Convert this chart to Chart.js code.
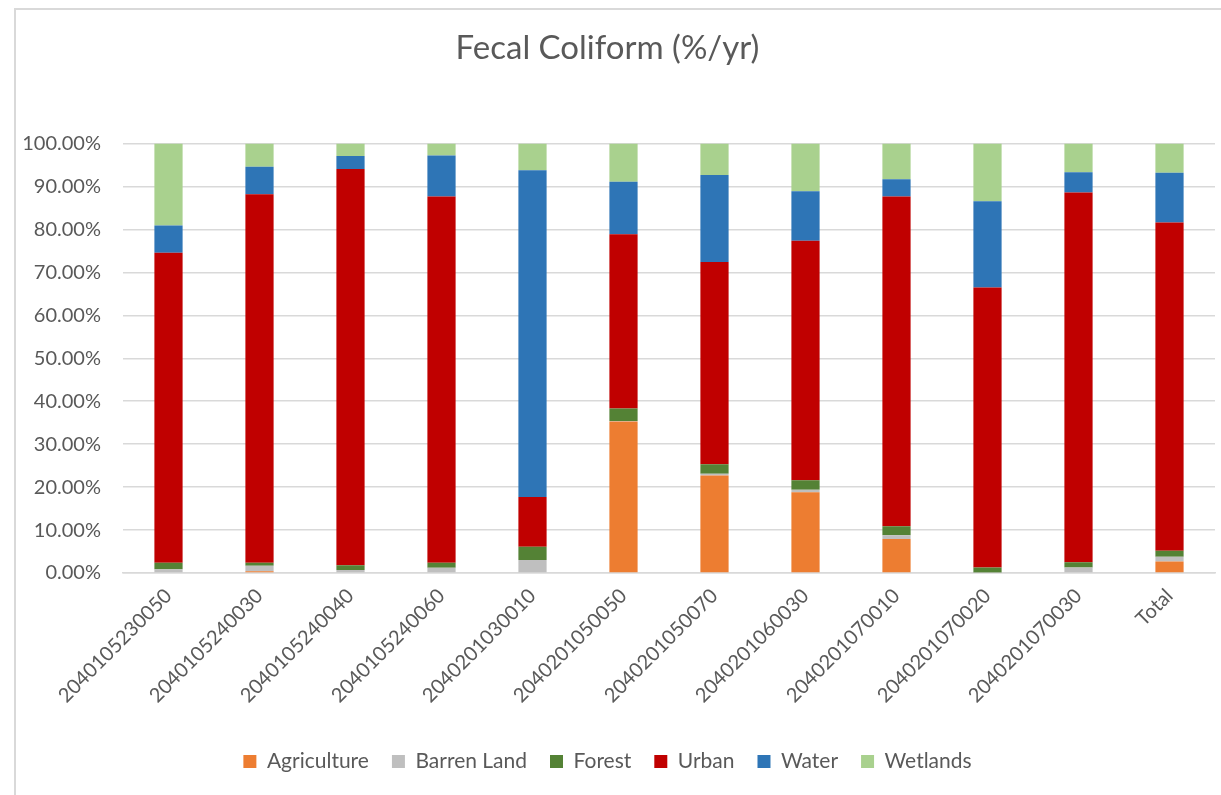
<!DOCTYPE html>
<html>
<head>
<meta charset="utf-8">
<script src="https://cdn.jsdelivr.net/npm/chart.js@4.4.0/dist/chart.umd.min.js"></script>
<style>
  html, body { margin: 0; padding: 0; background: #fff; }
  #frame {
    position: absolute; left: 14px; top: 8px; width: 1240px; height: 800px;
    border-left: 2px solid #d9d9d9; border-top: 2px solid #d9d9d9;
  }
  #wrap { position: absolute; left: 0; top: 0; width: 1221px; height: 795px; }
</style>
</head>
<body>
<div id="frame"></div>
<div id="wrap"><canvas id="js-chart" width="1221" height="795"></canvas></div>
<script>
'use strict';
const labels = ['2040105230050', '2040105240030', '2040105240040', '2040105240060',
  '2040201030010', '2040201050050', '2040201050070', '2040201060030',
  '2040201070010', '2040201070020', '2040201070030', 'Total'];

const agriculture = [0, 0.4, 0, 0, 0, 35.3, 22.7, 18.8, 7.9, 0, 0, 2.7];
const barrenLand  = [0.9, 1.3, 0.7, 1.2, 3.0, 0.1, 0.4, 0.6, 0.9, 0.1, 1.3, 1.1];
const forest      = [1.5, 0.7, 1.1, 1.2, 3.1, 2.9, 2.2, 2.2, 2.1, 1.2, 1.2, 1.4];
const urban       = [72.2, 85.8, 92.3, 85.3, 11.6, 40.6, 47.1, 55.8, 76.8, 65.2, 86.1, 76.4];
const water       = [6.3, 6.4, 3.0, 9.5, 76.1, 12.2, 20.3, 11.5, 4.0, 20.1, 4.7, 11.6];
const wetlands    = [19.1, 5.4, 2.9, 2.8, 6.2, 8.9, 7.3, 11.1, 8.3, 13.4, 6.7, 6.8];

const yTicks = [0, 10, 20, 30, 40, 50, 60, 70, 80, 90, 100];

const textColor = '#595959';
const gridColor = '#d9d9d9';
const fontFamily = 'Lato, "Open Sans", sans-serif';

const makeSet = function(label, data, color) {
  return {
    label: label,
    data: data,
    backgroundColor: color,
    borderWidth: 0,
    categoryPercentage: 1,
    barPercentage: 0.31
  };
};

document.addEventListener('DOMContentLoaded', function() {
  let ctx = document.getElementById('js-chart').getContext('2d');
  new Chart(ctx, {
    type: 'bar',
    data: {
      labels: labels,
      datasets: [
        makeSet('Agriculture', agriculture, '#ed7d31'),
        makeSet('Barren Land', barrenLand, '#bfbfbf'),
        makeSet('Forest', forest, '#548235'),
        makeSet('Urban', urban, '#c00000'),
        makeSet('Water', water, '#2e75b6'),
        makeSet('Wetlands', wetlands, '#a9d18e')
      ]
    },
    options: {
      responsive: false,
      animation: false,
      layout: { padding: { left: 0, right: 6, top: 0, bottom: 13 } },
      plugins: {
        title: {
          display: true,
          text: 'Fecal Coliform (%/yr)',
          color: textColor,
          font: { family: fontFamily, size: 33, weight: 'normal' },
          padding: { top: 29, bottom: 75 }
        },
        legend: {
          position: 'bottom',
          labels: {
            color: textColor,
            font: { family: fontFamily, size: 21 },
            boxWidth: 13,
            boxHeight: 13,
            padding: 23
          }
        },
        tooltip: { enabled: false }
      },
      scales: {
        x: {
          stacked: true,
          grid: { display: false },
          border: { color: gridColor, width: 1.5 },
          ticks: {
            color: textColor,
            font: { family: fontFamily, size: 20 },
            minRotation: 45,
            maxRotation: 45,
            autoSkip: false
          },
          afterFit: function(scale) { scale.height = 155; }
        },
        y: {
          stacked: true,
          min: 0,
          max: 100,
          afterBuildTicks: function(scale) {
            scale.ticks = yTicks.map(v => ({ value: v }));
          },
          grid: { color: gridColor, lineWidth: 1.5, drawTicks: false },
          border: { display: false },
          ticks: {
            color: textColor,
            font: { family: fontFamily, size: 20 },
            padding: 22,
            callback: function(v) { return Number(v).toFixed(2) + '%'; }
          },
          afterFit: function(scale) { scale.width = 123; }
        }
      }
    }
  });
});
</script>
</body>
</html>
